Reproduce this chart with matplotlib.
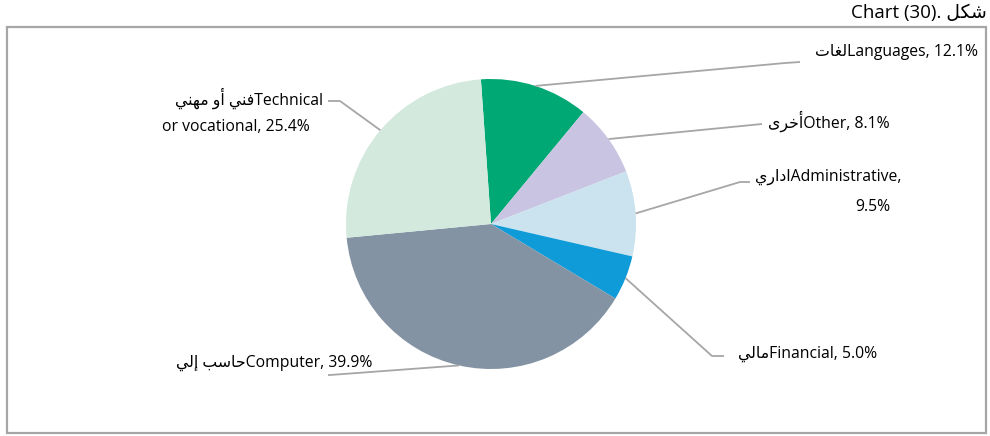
import numpy as np
import matplotlib
matplotlib.use("Agg")
import matplotlib.pyplot as plt
from matplotlib.patches import Rectangle

# ── Data ────────────────────────────────────────────────────────────────────
labels_ar = ["لغات", "أخرى", "اداري", "مالي", "حاسب إلي", "فني أو مهني"]
labels_en = ["Languages", "Other", "Administrative", "Financial", "Computer",
             "Technical\nor vocational"]
shares = [12.1, 8.1, 9.5, 5.0, 39.9, 25.4]
colors = ["#00A874", "#C9C4E2", "#CAE3EE", "#0F9BD8", "#8393A3", "#D3E9DD"]
title_en = "Chart (30). "
title_ar = "شكل"

# ── Minimal Arabic shaping (matplotlib has no complex text layout) ─────────
FORMS = {
    "ا": (0xFE8D, 2), "أ": (0xFE83, 2), "إ": (0xFE87, 2), "ب": (0xFE8F, 4),
    "ت": (0xFE95, 4), "ح": (0xFEA1, 4), "خ": (0xFEA5, 4), "د": (0xFEA9, 2),
    "ر": (0xFEAD, 2), "س": (0xFEB1, 4), "ش": (0xFEB5, 4), "غ": (0xFECD, 4),
    "ف": (0xFED1, 4), "ك": (0xFED9, 4), "ل": (0xFEDD, 4), "م": (0xFEE1, 4),
    "ن": (0xFEE5, 4), "ه": (0xFEE9, 4), "و": (0xFEED, 2), "ى": (0xFEEF, 2),
    "ي": (0xFEF1, 4),
}


def shape(text):
    out = []
    for i, c in enumerate(text):
        if c not in FORMS:
            out.append(c)
            continue
        base, n = FORMS[c]
        prev = text[i - 1] if i > 0 else None
        nxt = text[i + 1] if i + 1 < len(text) else None
        jp = prev in FORMS and FORMS[prev][1] == 4
        jn = n == 4 and nxt in FORMS
        idx = 3 if (jp and jn) else 1 if jp else 2 if jn else 0
        out.append(chr(base + idx))
    return "".join(reversed(out))


plt.rcParams["font.family"] = ["Open Sans", "DejaVu Sans"]

W, H = 990, 436
fig = plt.figure(figsize=(W / 100, H / 100), dpi=100)
ax = fig.add_axes([0, 0, 1, 1])

cx, cy, R = 491, H - 224, 145
wedges, _ = ax.pie(shares, colors=colors, startangle=94, counterclock=False,
                   center=(cx, cy), radius=R,
                   wedgeprops={"edgecolor": "none", "linewidth": 0})
ax.set_xlim(0, W)
ax.set_ylim(0, H)
ax.set_aspect("auto")
ax.axis("off")

# frame + title
ax.add_patch(Rectangle((7, H - 433), 979, 406, fill=False,
                       edgecolor="#A6A6A6", lw=1.6))
ax.text(987, H - 13, title_en + shape(title_ar), ha="right", va="center",
        fontsize=13.5, color="black")

# label layout (pixel positions, y from top): elbow, end, text lines
layout = [
    {"elbow": (785, 63), "end": (800, 62), "lines": [(978, 52, "right")]},
    {"elbow": (752, 125), "end": (762, 124), "lines": [(768, 121, "left")]},
    {"elbow": (740, 182), "end": (750, 182),
     "lines": [(755, 177, "left"), (890, 207, "right")]},
    {"elbow": (712, 356), "end": (724, 356), "lines": [(738, 354, "left")]},
    {"elbow": (330, 375), "end": (328, 375), "lines": [(372, 363, "right")]},
    {"elbow": (340, 101), "end": (328, 101),
     "lines": [(323, 98, "right"), (162, 127, "left")]},
]

for w, ar, en, v, lay in zip(wedges, labels_ar, labels_en, shares, layout):
    mid = np.deg2rad((w.theta1 + w.theta2) / 2)
    x0, y0 = cx + R * np.cos(mid), cy + R * np.sin(mid)
    (ex, ey), (fx, fy) = lay["elbow"], lay["end"]
    ax.plot([x0, ex, fx], [y0, H - ey, H - fy], color="#A6A6A6", lw=1.3,
            solid_capstyle="butt", zorder=1)
    txt = f"{shape(ar)}{en}, {v:.1f}%"
    if en == "Administrative":
        txt = f"{shape(ar)}{en},\n{v:.1f}%"
    for (tx, ty, ha), line in zip(lay["lines"], txt.split("\n")):
        ax.text(tx, H - ty, line, ha=ha, va="center", fontsize=11.3,
                color="black")

fig.savefig("out.png", dpi=100)
